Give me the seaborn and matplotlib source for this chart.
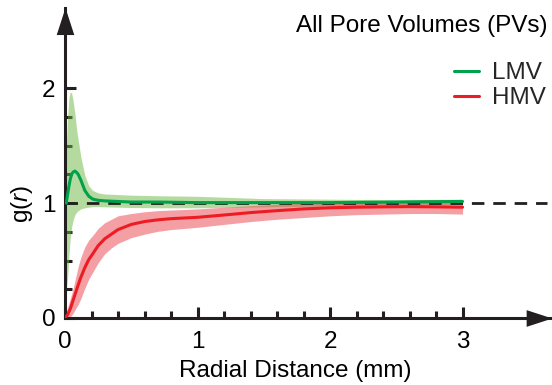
import numpy as np
import pandas as pd
import matplotlib
matplotlib.use("Agg")
import matplotlib.pyplot as plt
from matplotlib.lines import Line2D
from matplotlib.ticker import FixedLocator
import seaborn as sns

# ---------------- data ----------------
x_lmv = [0.01, 0.02, 0.03, 0.04, 0.05, 0.06, 0.075, 0.09, 0.10, 0.12, 0.15, 0.18,
         0.21, 0.25, 0.30, 0.40, 0.50, 0.70, 1.00, 1.50, 2.00, 2.50, 3.00]
g_lmv = [1.00, 1.08, 1.15, 1.21, 1.25, 1.27, 1.28, 1.265, 1.25, 1.20, 1.11, 1.06,
         1.035, 1.025, 1.02, 1.015, 1.01, 1.01, 1.005, 1.005, 1.005, 1.01, 1.015]
lmv_hi = [1.50, 1.75, 1.92, 1.97, 1.96, 1.90, 1.78, 1.62, 1.55, 1.40, 1.24, 1.15,
          1.11, 1.09, 1.08, 1.075, 1.07, 1.065, 1.06, 1.04, 1.035, 1.03, 1.035]
lmv_lo = [0.25, 0.35, 0.55, 0.70, 0.79, 0.85, 0.90, 0.925, 0.935, 0.95, 0.96, 0.965,
          0.97, 0.97, 0.968, 0.965, 0.962, 0.96, 0.96, 0.968, 0.975, 0.98, 0.99]

x_hmv = [0.0, 0.02, 0.04, 0.06, 0.08, 0.10, 0.12, 0.15, 0.18, 0.21, 0.25, 0.30, 0.35,
         0.40, 0.50, 0.60, 0.70, 0.80, 1.00, 1.20, 1.40, 1.60, 1.80, 2.00, 2.20,
         2.40, 2.60, 2.80, 3.00]
g_hmv = [0.0, 0.03, 0.08, 0.15, 0.22, 0.29, 0.355, 0.44, 0.51, 0.56, 0.63, 0.69, 0.73,
         0.77, 0.815, 0.84, 0.855, 0.865, 0.877, 0.897, 0.918, 0.935, 0.95, 0.96, 0.965,
         0.968, 0.97, 0.968, 0.965]
hmv_hi = [0.02, 0.09, 0.17, 0.25, 0.35, 0.45, 0.53, 0.62, 0.68, 0.72, 0.78, 0.83, 0.86,
          0.89, 0.91, 0.925, 0.935, 0.94, 0.95, 0.965, 0.978, 0.99, 1.00, 1.01, 1.015,
          1.02, 1.025, 1.03, 1.03]
hmv_lo = [0.0, 0.0, 0.01, 0.04, 0.08, 0.12, 0.17, 0.26, 0.34, 0.40, 0.48, 0.56, 0.61,
          0.65, 0.70, 0.73, 0.755, 0.77, 0.79, 0.815, 0.84, 0.86, 0.875, 0.89, 0.90,
          0.905, 0.91, 0.91, 0.905]

groups = ["LMV", "HMV"]
x_major = [0, 1, 2, 3]
y_major = [0, 1, 2]
title_text = "All Pore Volumes (PVs)"

# ---------------- styling ----------------
sns.set_theme(style="white")
plt.rcParams["font.family"] = ["Liberation Sans", "DejaVu Sans"]
plt.rcParams["mathtext.fontset"] = "custom"
plt.rcParams["mathtext.rm"] = "Liberation Sans"
plt.rcParams["mathtext.it"] = "Liberation Sans:italic"

FS = 17.5
green, red = "#00a14b", "#ed1c24"
green_fill, red_fill = "#6db741", "#eb414b"
ink = "#231f20"

fig = plt.figure(figsize=(5.52, 3.85), dpi=100)
ax = fig.add_axes([65 / 552, 67 / 385, 487 / 552, 310 / 385])

df = pd.concat([
    pd.DataFrame({"r": x_lmv, "g": g_lmv, "group": "LMV"}),
    pd.DataFrame({"r": x_hmv, "g": g_hmv, "group": "HMV"}),
])

ax.fill_between(x_lmv, lmv_lo, lmv_hi, color=green_fill, alpha=0.5, lw=0, zorder=1)
ax.fill_between(x_hmv, hmv_lo, hmv_hi, color=red_fill, alpha=0.5, lw=0, zorder=1.1)
ax.axhline(1, xmin=0, xmax=0.99, color=ink, lw=2.0, dashes=(4.5, 3.2), zorder=2)

sns.lineplot(data=df, x="r", y="g", hue="group", hue_order=groups,
             palette={"LMV": green, "HMV": red}, estimator=None, errorbar=None,
             sort=True, lw=2.2, legend=False, ax=ax, zorder=3)

ax.set_xlim(0, 3.675)
ax.set_ylim(0, 2.7)

for s in ["top", "right"]:
    ax.spines[s].set_visible(False)
for s in ["left", "bottom"]:
    ax.spines[s].set_linewidth(2.2)
    ax.spines[s].set_color(ink)

ax.set_xticks(x_major)
ax.set_xticklabels([str(v) for v in x_major])
ax.set_yticks(y_major)
ax.set_yticklabels([str(v) for v in y_major])
ax.xaxis.set_minor_locator(FixedLocator([v / 5 for v in range(1, 15) if v % 5]))
ax.yaxis.set_minor_locator(FixedLocator([0.25, 0.5, 0.75, 1.25, 1.5, 1.75]))
ax.tick_params(which="both", bottom=True, left=True, top=False, right=False)
ax.tick_params(which="major", direction="in", length=8, width=2.2, color=ink,
               labelsize=FS, labelcolor="black")
ax.tick_params(which="minor", direction="in", length=5, width=2.2, color=ink)
ax.tick_params(axis="x", which="major", pad=9)
ax.tick_params(axis="y", which="major", pad=7)

# arrow heads
tri = [(0, 1), (-0.65, -1), (0.65, -1), (0, 1)]
tri_r = [(1, 0), (-1, 0.65), (-1, -0.65), (1, 0)]
ax.plot([0], [2.7 - 13.5 / 115], marker=tri, ms=19.5, color=ink, mec=ink, mew=0,
        clip_on=False, zorder=5)
ax.plot([3.675 - 13 / 132.5], [0], marker=tri_r, ms=18.5, color=ink, mec=ink, mew=0,
        clip_on=False, zorder=5)

ax.set_xlabel("Radial Distance (mm)", fontsize=FS, color="black")
ax.xaxis.set_label_coords(0.473, -0.135)
ax.set_ylabel("g($\\mathit{r}$)", fontsize=FS, color="black")
ax.yaxis.set_label_coords(-0.062, 0.368)

fig.text(547 / 552, 1 - 32 / 385, title_text, ha="right", va="baseline",
         fontsize=FS, color="black")

handles = [Line2D([], [], color=green, lw=2.2), Line2D([], [], color=red, lw=2.2)]
ax.legend(handles, groups, loc="upper right", bbox_to_anchor=(546 / 552, 1 - 62 / 385),
          bbox_transform=fig.transFigure, frameon=False, fontsize=FS,
          handlelength=1.0, handletextpad=0.55, labelspacing=0.14,
          borderpad=0, borderaxespad=0)

fig.savefig("out.png", dpi=100)
